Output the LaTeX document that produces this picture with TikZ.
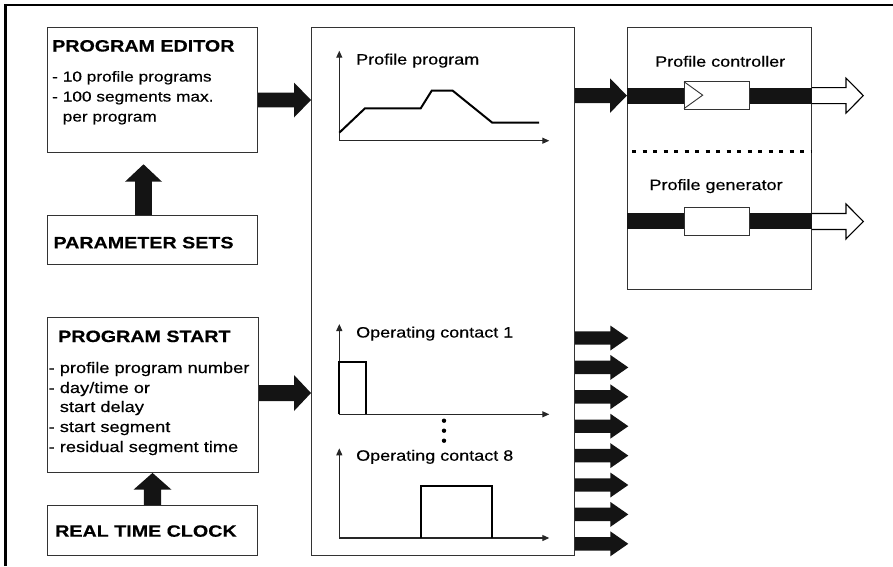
\documentclass[tikz,border=0pt]{standalone}
\usepackage{fontspec}
\setmainfont{Liberation Sans}[FakeStretch=1.2,FakeBold=0.4]
\usetikzlibrary{calc,arrows.meta}

\newcommand\fatright[5]{\fill[fat] let \p1=#1, \p2=#2 in (\x1,\y1+#3) -- (\x2-#5,\y1+#3) -- (\x2-#5,\y1+#4) -- (\x2,\y1) -- (\x2-#5,\y1-#4) -- (\x2-#5,\y1-#3) -- (\x1,\y1-#3) -- cycle;}
\newcommand\fatup[5]{\fill[fat] let \p1=#1, \p2=#2 in (\x1+#3,\y1) -- (\x1+#3,\y2-#5) -- (\x1+#4,\y2-#5) -- (\x1,\y2) -- (\x1-#4,\y2-#5) -- (\x1-#3,\y2-#5) -- (\x1-#3,\y1) -- cycle;}
\newcommand\hollowright[5]{\draw[hollow] let \p1=#1, \p2=#2 in (\x1,\y1+#3) -- (\x2-#5,\y1+#3) -- (\x2-#5,\y1+#4) -- (\x2,\y1) -- (\x2-#5,\y1-#4) -- (\x2-#5,\y1-#3) -- (\x1,\y1-#3);}

\tikzset{
  box/.style={draw=black!80, line width=1.1pt, fill=white, inner sep=0pt, anchor=north west},
  title/.style={anchor=base west, inner sep=0pt, font=\fontsize{16.4}{19}\selectfont\bfseries},
  item/.style={anchor=base west, inner sep=0pt, font=\fontsize{14.4}{17}\selectfont},
  itemb/.style={anchor=base west, inner sep=0pt, font=\fontsize{15.2}{18}\selectfont},
  lab/.style={anchor=base west, inner sep=0pt, font=\fontsize{15}{18}\selectfont},
  axis/.style={draw=black!85, line width=1.1pt, -{Triangle[length=7pt,width=6pt]}},
  curve/.style={draw=black, line width=2pt, line join=miter},
  fat/.style={fill=black!92},
  hollow/.style={draw=black, line width=1.1pt, fill=white, line join=miter},
  blk/.style={fill=black!92},
  inbox/.style={draw=black!80, line width=0.9pt, fill=white, inner sep=0pt, anchor=north west, minimum width=65pt},
}

\begin{document}
\begin{tikzpicture}[x=1pt,y=-1pt]
\useasboundingbox (0,0) rectangle (893,566);
% frame
\draw[line width=2.4pt] (5.5,566) -- (5.5,5) -- (893,5);

% boxes
\node[box, minimum width=210pt, minimum height=125pt] (pe) at (47,27) {};
\node[box, minimum width=210pt, minimum height=49pt] (ps) at (47,215) {};
\node[box, minimum width=211pt, minimum height=154.5pt] (st) at (47,317.3) {};
\node[box, minimum width=210pt, minimum height=50pt] (rtc) at (47,505) {};
\node[box, minimum width=263pt, minimum height=528pt] (mid) at (311,27) {};
\node[box, minimum width=184pt, minimum height=262pt] (rb) at (627,27) {};

% left texts
\node[title] (pet) at (52,51.5) {PROGRAM EDITOR};
\node[item] (pe1) at (52,81.5) {- 10 profile programs};
\node[item] (pe2) at (52,101.5) {- 100 segments max.};
\node[item] (pe3) at (52,121.5) {\phantom{- }per program};
\node[title] (pst) at (53.3,248.3) {PARAMETER SETS};
\node[title] (stt) at (58,342) {PROGRAM START};
\node[itemb] (st1) at (48.5,373) {- profile program number};
\node[itemb] (st2) at (48.5,393) {- day/time or};
\node[itemb] (st3) at (48.5,412) {\phantom{- }start delay};
\node[itemb] (st4) at (48.5,432) {- start segment};
\node[itemb] (st5) at (48.5,452) {- residual segment time};
\node[title] (rtct) at (55,536.7) {REAL TIME CLOCK};

% fat arrows on the left
\coordinate (r1) at (0,100);
\coordinate (r2) at (0,393);
\coordinate (t1) at (143.5,164.3);
\coordinate (c2) at (152.5,0);
\fatright{(pe.east |- r1)}{(mid.west |- r1)}{7.3pt}{17.5pt}{17pt}
\fatright{(st.east |- r2)}{(mid.west |- r2)}{8pt}{18pt}{17pt}
\fatup{(ps.north -| t1)}{(t1)}{8.3pt}{18.5pt}{17.4pt}
\fatup{(rtc.north -| c2)}{(st.south -| c2)}{8.7pt}{18.8pt}{16.6pt}

% profile program graph
\coordinate (pp0) at (339.3,140.7);
\draw[axis] (pp0) -- (339.3,50.7);
\draw[axis] (pp0) -- (549.3,140.7);
\node[lab] (ppl) at (356,64.5) {Profile program};
\draw[curve] (339.3,132.7) -- (365,108.3) -- (420.7,108.3) -- (431.7,90.7) -- (452.7,90.7) -- (492.3,122.7) -- (539,122.7);

% operating contact 1
\coordinate (oc1) at (339.3,414.3);
\draw[axis] (oc1) -- (339.3,324);
\draw[axis] (oc1) -- (549.3,414.3);
\node[lab] (oc1l) at (356,337.5) {Operating contact 1};
\draw[curve] (339.3,414.3) -- (339.3,361.7) -- (366,361.7) -- (366,414.3);
% dots
\foreach \yy in {420.7,430.7,440.7} \fill[black] (444,\yy) circle (2.2pt);
% operating contact 8
\coordinate (oc8) at (339.3,538);
\draw[axis] (oc8) -- (339.3,448.3);
\draw[axis] (oc8) -- (549.3,538);
\node[lab] (oc8l) at (356,460.7) {Operating contact 8};
\draw[curve] (420.7,538) -- (420.7,485.7) -- (492.3,485.7) -- (492.3,538);

% output arrows
\foreach \i in {0,...,7}{
  \coordinate (oe\i) at (628.3,{338+29.4*\i});
  \fatright{(mid.east |- oe\i)}{(oe\i)}{6.7pt}{12.5pt}{18pt}
}

% right box contents
\node[lab] (pcl) at (655,66.7) {Profile controller};
\node[inbox, minimum height=28.3pt] (ctl) at (684,81) {};
\fill[blk] ($(rb.west |- ctl.west)+(0,-8)$) rectangle ($(ctl.west)+(0,8)$);
\fill[blk] ($(ctl.east)+(0,-8)$) rectangle ($(rb.east |- ctl.east)+(0,8)$);
\draw[line width=0.9pt, draw=black!80, line join=miter] (684,81.7) -- (702.7,95.15) -- (684,108.6);
\fatright{(mid.east |- ctl.west)}{(rb.west |- ctl.west)}{7.5pt}{17.2pt}{17pt}
\coordinate (h1) at (863.3,0);
\hollowright{(rb.east |- ctl.east)}{(h1 |- ctl.east)}{8pt}{17.5pt}{17.3pt}

\draw[line width=3pt, dash pattern=on 4pt off 6.5pt] (632,151.7) -- (811,151.7);

\node[lab] (pgl) at (649.3,190) {Profile generator};
\node[inbox, minimum height=28pt] (gen) at (684,207) {};
\fill[blk] ($(rb.west |- gen.west)+(0,-8)$) rectangle ($(gen.west)+(0,8)$);
\fill[blk] ($(gen.east)+(0,-8)$) rectangle ($(rb.east |- gen.east)+(0,8)$);
\hollowright{(rb.east |- gen.east)}{(h1 |- gen.east)}{8pt}{17.5pt}{17.3pt}
\end{tikzpicture}
\end{document}
